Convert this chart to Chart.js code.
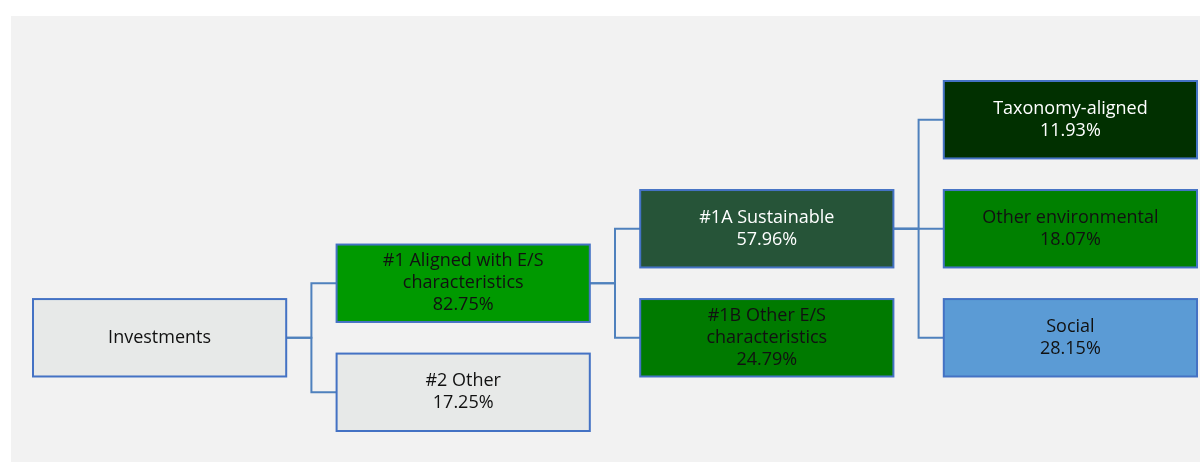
<!DOCTYPE html>
<html>
<head>
<meta charset="utf-8">
<script src="https://cdn.jsdelivr.net/npm/chart.js@4/dist/chart.umd.min.js"></script>
<style>
  html, body { margin: 0; padding: 0; background: #fff; }
  #wrap { position: absolute; left: 11px; top: 16px; width: 1189px; height: 446px; background: #f2f2f2; }
  #box { position: absolute; left: 0; top: 0; width: 1200px; height: 462px; }
</style>
</head>
<body>
<div id="wrap"></div>
<div id="box"><canvas id="tree"></canvas></div>
<script>
// Tree nodes (column = level, row = vertical slot)
const nodeLabels = [
  ['Investments'],
  ['#1 Aligned with E/S', 'characteristics'],
  ['#2 Other'],
  ['#1A Sustainable'],
  ['#1B Other E/S', 'characteristics'],
  ['Taxonomy-aligned'],
  ['Other environmental'],
  ['Social']
];
const nodeValues = [null, 82.75, 17.25, 57.96, 24.79, 11.93, 18.07, 28.15];
const nodeColumns = [0, 1, 1, 2, 2, 3, 3, 3];
const nodeRows = [4, 3, 5, 2, 4, 0, 2, 4];
const nodeParents = [null, 0, 0, 1, 1, 3, 3, 3];
const nodeFills = ['#e7e9e8', '#009900', '#e7e9e8', '#265438', '#007a00', '#013000', '#008000', '#5b9bd5'];
const nodeText = ['#111', '#111', '#111', '#fff', '#111', '#fff', '#111', '#111'];

const boxW = 0.834;   // in column units
const boxH = 1.42;    // in row units

const connectors = [];
nodeParents.forEach((p, i) => {
  if (p === null) return;
  const x0 = nodeColumns[p] + boxW;
  const x1 = nodeColumns[i];
  const mid = (x0 + x1) / 2;
  connectors.push({
    type: 'scatter',
    data: [
      { x: x0, y: nodeRows[p] },
      { x: mid, y: nodeRows[p] },
      { x: mid, y: nodeRows[i] },
      { x: x1, y: nodeRows[i] }
    ],
    showLine: true,
    borderColor: '#4f81bd',
    borderWidth: 2,
    pointRadius: 0,
    tension: 0
  });
});

const boxesPlugin = {
  id: 'boxes',
  afterDatasetsDraw(chart) {
    const { ctx, scales: { x, y } } = chart;
    ctx.save();
    nodeLabels.forEach((lines, i) => {
      const left = x.getPixelForValue(nodeColumns[i]);
      const right = x.getPixelForValue(nodeColumns[i] + boxW);
      const top = y.getPixelForValue(nodeRows[i] - boxH / 2);
      const bottom = y.getPixelForValue(nodeRows[i] + boxH / 2);
      ctx.fillStyle = nodeFills[i];
      ctx.fillRect(left, top, right - left, bottom - top);
      ctx.strokeStyle = '#4472c4';
      ctx.lineWidth = 2;
      ctx.strokeRect(left, top, right - left, bottom - top);

      const all = lines.slice();
      if (nodeValues[i] !== null) all.push(nodeValues[i].toFixed(2) + '%');
      const lh = 22;
      const cy = (top + bottom) / 2;
      ctx.fillStyle = nodeText[i];
      ctx.font = '18px "Open Sans", sans-serif';
      ctx.textAlign = 'center';
      ctx.textBaseline = 'middle';
      all.forEach((t, k) => {
        ctx.fillText(t, (left + right) / 2, cy + (k - (all.length - 1) / 2) * lh);
      });
    });
    ctx.restore();
  }
};

new Chart(document.getElementById('tree'), {
  type: 'scatter',
  data: { datasets: connectors },
  options: {
    responsive: true, maintainAspectRatio: false, animation: false,
    layout: { padding: { left: 33, right: 3, top: 81, bottom: 31 } },
    plugins: { legend: { display: false }, tooltip: { enabled: false } },
    scales: {
      x: { type: 'linear', display: false, min: 0, max: 3 + boxW },
      y: { type: 'linear', display: false, reverse: true, min: -boxH / 2, max: 5 + boxH / 2 }
    }
  },
  plugins: [boxesPlugin]
});
</script>
</body>
</html>
